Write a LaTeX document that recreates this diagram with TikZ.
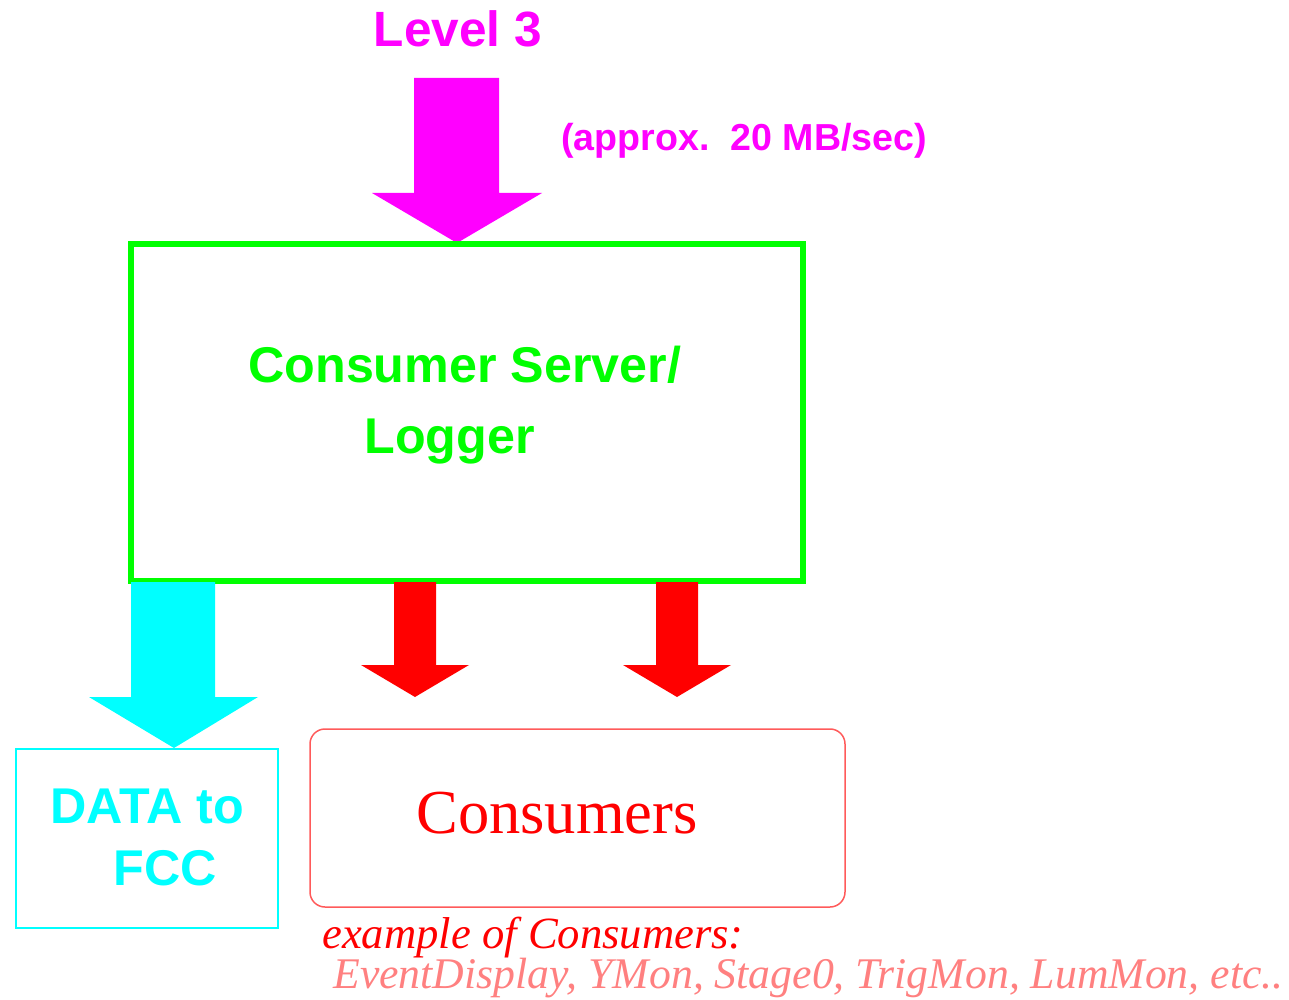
\documentclass[tikz,border=0pt]{standalone}
\usepackage{fontspec}
\setmainfont{Liberation Serif}
\newfontfamily\arialf{Liberation Sans}
\begin{document}
\begin{tikzpicture}[x=0.02cm,y=-0.02cm,
  sanslbl/.style={font=\arialf\bfseries\fontsize{28.6}{30}\selectfont, inner sep=0pt},
]
\definecolor{mag}{RGB}{255,0,255}
\definecolor{grn}{RGB}{0,255,0}
\definecolor{cyn}{RGB}{0,255,255}
\definecolor{rd}{RGB}{255,0,0}
\definecolor{salm}{RGB}{255,90,90}
\definecolor{pnk}{RGB}{255,128,128}
\useasboundingbox (0,0) rectangle (1289,1000);
% magenta arrow
\fill[mag] (414,78) -- (499,78) -- (499,193) -- (542,193) -- (457,243) -- (372,193) -- (414,193) -- cycle;
\node[font=\arialf\bfseries\fontsize{28.2}{30}\selectfont, inner sep=0pt, text=mag, anchor=base] (lvl) at (458,47) {Level 3};
\node[font=\arialf\bfseries\fontsize{21.4}{24}\selectfont, inner sep=0pt, text=mag, anchor=base west] (rate) at (561,151) {(approx.\ \ 20 MB/sec)};
% green box
\draw[grn, line width=6*0.02cm] (131,244) rectangle (803,581);
\node[sanslbl, text=grn, anchor=base west] (cs) at (248,382) {Consumer Server/};
\node[sanslbl, text=grn, anchor=base west] (lg) at (364,454) {Logger};
% cyan arrow
\fill[cyn] (131,582) -- (215,582) -- (215,697) -- (258,697) -- (174,748) -- (89,697) -- (131,697) -- cycle;
% red arrows
\fill[rd] (394,582) -- (436,582) -- (436,665) -- (469,665) -- (415,697) -- (361,665) -- (394,665) -- cycle;
\fill[rd] (656,582) -- (698,582) -- (698,665) -- (731,665) -- (677,697) -- (623,665) -- (656,665) -- cycle;
% cyan box
\draw[cyn, line width=2*0.02cm] (16,749) rectangle (278,928);
\node[sanslbl, text=cyn, anchor=base west] (d1) at (50,823) {DATA to};
\node[sanslbl, text=cyn, anchor=base west] (d2) at (113,885) {FCC};
% consumers box
\draw[salm, line width=1.5*0.02cm, rounded corners=0.3cm] (310,729) rectangle (845,907);
\node[font=\fontsize{35.6}{40}\selectfont, text=rd, inner sep=0pt, anchor=base west] (cons) at (416,833) {Consumers};
\node[font=\itshape\fontsize{25.4}{28}\selectfont, text=rd, inner sep=0pt, anchor=base west] (ex) at (322,948) {example of Consumers:};
\node[font=\itshape\fontsize{24.9}{28}\selectfont, text=pnk, inner sep=0pt, anchor=base west] (list) at (333,988) {EventDisplay, YMon, Stage0, TrigMon, LumMon, etc..};
\end{tikzpicture}
\end{document}
